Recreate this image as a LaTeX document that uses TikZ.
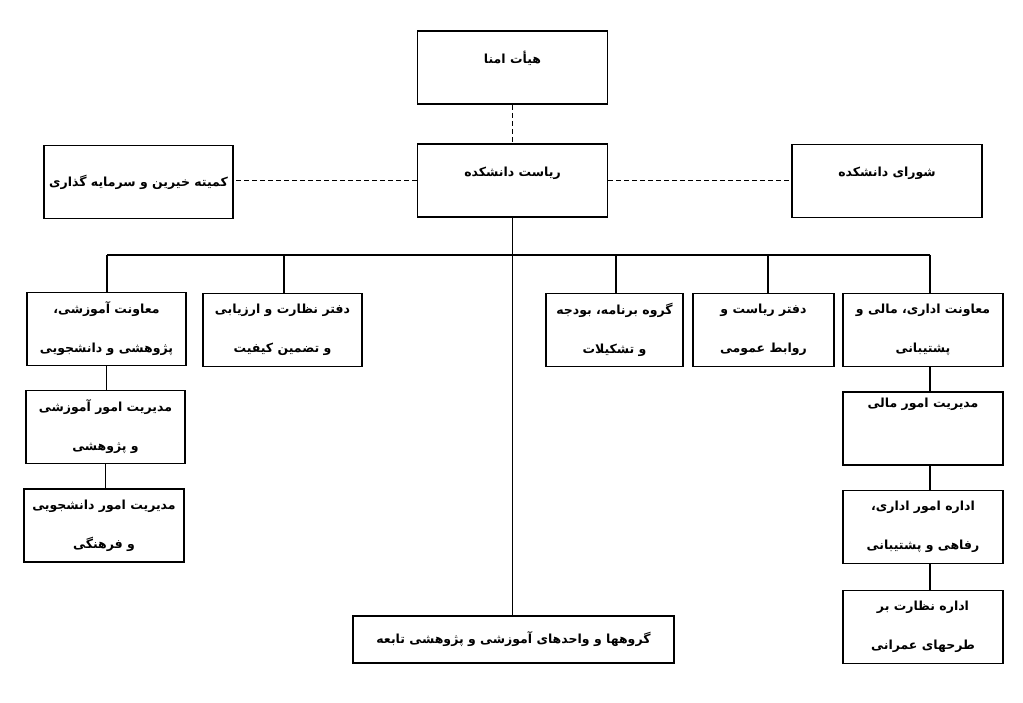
\documentclass[tikz,border=0pt]{standalone}
\usepackage{fontspec}
\newfontfamily\persianfont[Script=Arabic]{DejaVu Sans}
\TeXXeTstate=1
\newcommand\rtlline[1]{\beginR #1\endR}

\begin{document}
\begin{tikzpicture}[x=1pt, y=-1pt,
    box/.style={draw, line width=1.6pt, align=center, inner sep=0pt,
      minimum height=73, font=\persianfont\bfseries\fontsize{12.5}{39}\selectfont},
    uptext/.style={text height=8pt, text depth=16pt},
    link/.style={line width=1.5pt},
    dashlink/.style={line width=1.5pt, dash pattern=on 5pt off 3pt}]

  \useasboundingbox (0,0) rectangle (1023,703);

  %% top level
  \node[box, uptext, minimum width=190] (board) at (512.5, 67.5) {\rtlline{هیأت امنا}};
  \node[box, uptext, minimum width=190] (head) at (512.5, 180.5) {\rtlline{ریاست دانشکده}};
  \node[box, minimum width=189] (donors) at (138.5, 182) {\rtlline{کمیته خیرین و سرمایه گذاری}};
  \node[box, uptext, minimum width=190] (council) at (887, 181) {\rtlline{شورای دانشکده}};

  %% second row
  \node[box, minimum width=159] (eduvp) at (106.5, 329) {\rtlline{معاونت آموزشی،}\\\rtlline{پژوهشی و دانشجویی}};
  \node[box, minimum width=159] (qa) at (282.5, 330) {\rtlline{دفتر نظارت و ارزیابی}\\\rtlline{و تضمین کیفیت}};
  \node[box, minimum width=137] (budget) at (614.5, 330) {\rtlline{گروه برنامه، بودجه}\\\rtlline{و تشکیلات}};
  \node[box, minimum width=141] (office) at (763.5, 330) {\rtlline{دفتر ریاست و}\\\rtlline{روابط عمومی}};
  \node[box, minimum width=160] (adminvp) at (923, 330) {\rtlline{معاونت اداری، مالی و}\\\rtlline{پشتیبانی}};

  %% left column
  \node[box, minimum width=159] (edumgr) at (105.5, 427) {\rtlline{مدیریت امور آموزشی}\\\rtlline{و پژوهشی}};
  \node[box, minimum width=160] (stumgr) at (104, 525.5) {\rtlline{مدیریت امور دانشجویی}\\\rtlline{و فرهنگی}};

  %% right column
  \node[box, minimum width=160] (finmgr) at (923, 428.5) {\rtlline{مدیریت امور مالی}\\\strut};
  \node[box, minimum width=160] (welfare) at (923, 527) {\rtlline{اداره امور اداری،}\\\rtlline{رفاهی و پشتیبانی}};
  \node[box, minimum width=160] (civil) at (923, 627) {\rtlline{اداره نظارت بر}\\\rtlline{طرحهای عمرانی}};

  %% bottom
  \node[box, minimum width=321, minimum height=47] (units) at (513.5, 639.5) {\rtlline{گروهها و واحدهای آموزشی و پژوهشی تابعه}};

  %% bus
  \coordinate (d1) at (107, 255);
  \coordinate (d2) at (284, 255);
  \coordinate (d3) at (616, 255);
  \coordinate (d4) at (768, 255);
  \coordinate (d5) at (930, 255);

  \draw[dashlink] (board) -- (head);
  \draw[dashlink] (head.west) -- (head.west -| donors.east);
  \draw[dashlink] (head.east) -- (head.east -| council.west);

  \draw[link] (head.south) -- (head.south |- units.north);
  \draw[link] (d1) -- (d5);
  \draw[link] (d1) -- (d1 |- eduvp.north);
  \draw[link] (d2) -- (d2 |- qa.north);
  \draw[link] (d3) -- (d3 |- budget.north);
  \draw[link] (d4) -- (d4 |- office.north);
  \draw[link] (d5) -- (d5 |- adminvp.north);

  \draw[link] (eduvp.south) -- (eduvp.south |- edumgr.north);
  \draw[link] (edumgr.south) -- (edumgr.south |- stumgr.north);

  \draw[link] (adminvp.south -| d5) -- (finmgr.north -| d5);
  \draw[link] (finmgr.south -| d5) -- (welfare.north -| d5);
  \draw[link] (welfare.south -| d5) -- (civil.north -| d5);
\end{tikzpicture}
\end{document}
